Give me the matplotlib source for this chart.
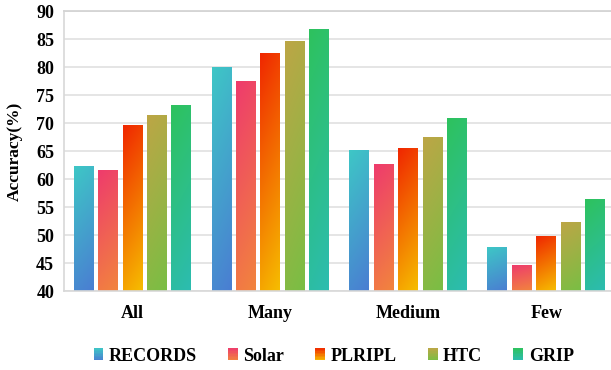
import numpy as np
import matplotlib
matplotlib.use("Agg")
import matplotlib.pyplot as plt
from matplotlib.colors import to_rgb
from matplotlib.patches import Rectangle
from matplotlib.legend_handler import HandlerBase

categories = ["All", "Many", "Medium", "Few"]
methods = ["RECORDS", "Solar", "PLRIPL", "HTC", "GRIP"]
records = [62.2, 80.0, 65.1, 47.7]
solar = [61.5, 77.5, 62.6, 44.6]
plripl = [69.6, 82.4, 65.4, 49.7]
htc = [71.4, 84.5, 67.4, 52.2]
grip = [73.2, 86.7, 70.8, 56.4]
series = [records, solar, plripl, htc, grip]
yticks = [40, 45, 50, 55, 60, 65, 70, 75, 80, 85, 90]

# (top colour, bottom colour)
grads = [("#3ec6c6", "#4a7ed2"),
         ("#ee3c6c", "#f2843e"),
         ("#f02800", "#f6bc00"),
         ("#bca646", "#7abe44"),
         ("#2ec25e", "#2cbcb0")]

plt.rcParams['font.family'] = ['Liberation Serif', 'DejaVu Serif']

fig = plt.figure(figsize=(6.11, 3.70), dpi=100)
ax = fig.add_axes([0.1047, 0.2135, 0.8953, 0.7565])

ymin, ymax = 40, 90
x = np.arange(len(categories))
pitch = 0.177
width = 0.145


def grad_img(top, bot, n=64, m=8):
    t = np.linspace(0, 1, n)[:, None]  # 0 at top row
    s = np.linspace(0, 1, m)[None, :]
    w = np.clip(0.85 * t + 0.15 * s, 0, 1)[..., None]
    c1 = np.array(to_rgb(top))
    c2 = np.array(to_rgb(bot))
    return c1 * (1 - w) + c2 * w


for i, (vals, (top, bot)) in enumerate(zip(series, grads)):
    xs = x + (i - 2) * pitch
    bars = ax.bar(xs, vals, width=width, bottom=0, color="none", edgecolor="none", zorder=2)
    img = grad_img(top, bot)
    for b in bars:
        x0 = b.get_x()
        x1 = x0 + b.get_width()
        h = b.get_height()
        ax.imshow(img, extent=[x0, x1, ymin, h], aspect='auto', origin='upper',
                  zorder=2, interpolation='bilinear')

ax.set_xlim(-0.497, 3.47)
ax.set_ylim(ymin, ymax)
ax.set_yticks(yticks)
ax.set_xticks(x)
ax.set_xticklabels(categories, fontsize=13, fontweight='bold')
ax.tick_params(axis='both', length=0)
ax.tick_params(axis='y', labelsize=13, pad=7)
for lab in ax.get_yticklabels():
    lab.set_fontweight('bold')
ax.tick_params(axis='x', pad=10)
ax.set_ylabel("Accuracy(%)", fontsize=12.5, fontweight='bold')
ax.yaxis.set_label_coords(-0.075, 0.5)

ax.grid(axis='y', color='#e0e0e0', linewidth=1.2, zorder=0)
ax.set_axisbelow(True)
ax.spines['right'].set_visible(False)
ax.spines['top'].set_color('#d4d4d4')
ax.spines['top'].set_linewidth(1.3)
ax.spines['left'].set_color('#d8d8d8')
ax.spines['bottom'].set_color('#d8d8d8')
ax.spines['left'].set_linewidth(1.2)
ax.spines['bottom'].set_linewidth(1.2)


class GradHandler(HandlerBase):
    def __init__(self, top, bot):
        super().__init__()
        self.top = top
        self.bot = bot

    def create_artists(self, legend, orig_handle, xdescent, ydescent,
                       width, height, fontsize, trans):
        arts = []
        n = 8
        c1 = np.array(to_rgb(self.top))
        c2 = np.array(to_rgb(self.bot))
        for k in range(n):
            w = (k + 0.5) / n
            col = c1 * (1 - w) + c2 * w
            y0 = -ydescent + height * (1 - (k + 1) / n)
            r = Rectangle((-xdescent, y0), width, height / n + 0.3,
                          facecolor=col, edgecolor='none', transform=trans)
            arts.append(r)
        return arts


handles = [Rectangle((0, 0), 1, 1) for _ in methods]
hmap = {h: GradHandler(t, b) for h, (t, b) in zip(handles, grads)}
leg = fig.legend(handles, methods, handler_map=hmap, loc='center',
                 bbox_to_anchor=(0.546, 0.037), ncol=5, frameon=False,
                 prop={'family': 'Liberation Serif', 'weight': 'bold', 'size': 13},
                 handlelength=0.55, handleheight=0.65, handletextpad=0.3,
                 columnspacing=1.72, borderaxespad=0)

fig.savefig("out.png", dpi=100)
